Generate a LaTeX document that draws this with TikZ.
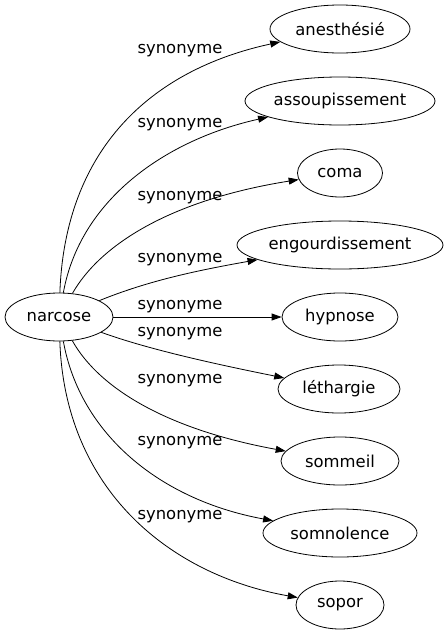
\documentclass[tikz,border=0pt]{standalone}
\usepackage{fontspec}
\setmainfont{DejaVu Sans}
\usetikzlibrary{arrows.meta,shapes}

\begin{document}
\begin{tikzpicture}[x=1pt,y=-1pt,->,>={Triangle[length=10pt,width=7pt]},line width=0.8pt]
    \tikzstyle{word}=[ellipse, draw, minimum height=48pt, inner sep=0pt, font=\fontsize{16.4}{19}\selectfont]
    \tikzstyle{rel}=[inner sep=0pt, font=\fontsize{16.4}{19}\selectfont]
    \useasboundingbox (0,0) rectangle (447,635);

    \node[word, minimum width=108pt] (narcose)         at (59,317)  {narcose};
    \node[word, minimum width=140pt] (anesthesie)      at (340,29)  {anesthésié};
    \node[word, minimum width=190pt] (assoupissement)  at (340,101) {assoupissement};
    \node[word, minimum width=85pt]  (coma)            at (340,173) {coma};
    \node[word, minimum width=206pt] (engourdissement) at (340,245) {engourdissement};
    \node[word, minimum width=116pt] (hypnose)         at (340,317) {hypnose};
    \node[word, minimum width=122pt] (lethargie)       at (339,389) {léthargie};
    \node[word, minimum width=118pt] (sommeil)         at (340,461) {sommeil};
    \node[word, minimum width=154pt] (somnolence)      at (340,533) {somnolence};
    \node[word, minimum width=88pt]  (sopor)           at (340,605) {sopor};

    \draw (narcose) .. controls (65,150) and (150,70) .. (anesthesie);
    \draw (narcose) .. controls (80,200) and (165,140) .. (assoupissement);
    \draw (narcose) .. controls (100,245) and (170,200) .. (coma);
    \draw (narcose) .. controls (150,280) and (200,270) .. (engourdissement);
    \draw (narcose) -- (hypnose);
    \draw (narcose) .. controls (150,350) and (220,365) .. (lethargie);
    \draw (narcose) .. controls (100,390) and (170,430) .. (sommeil);
    \draw (narcose) .. controls (80,434) and (160,500) .. (somnolence);
    \draw (narcose) .. controls (65,490) and (170,575) .. (sopor);

    \node[rel] (s1) at (180,51)  {synonyme};
    \node[rel] (s2) at (180,125) {synonyme};
    \node[rel] (s3) at (180,198) {synonyme};
    \node[rel] (s4) at (180,260) {synonyme};
    \node[rel] (s5) at (180,307) {synonyme};
    \node[rel] (s6) at (180,334) {synonyme};
    \node[rel] (s7) at (180,381) {synonyme};
    \node[rel] (s8) at (180,443) {synonyme};
    \node[rel] (s9) at (180,517) {synonyme};

\end{tikzpicture}
\end{document}
